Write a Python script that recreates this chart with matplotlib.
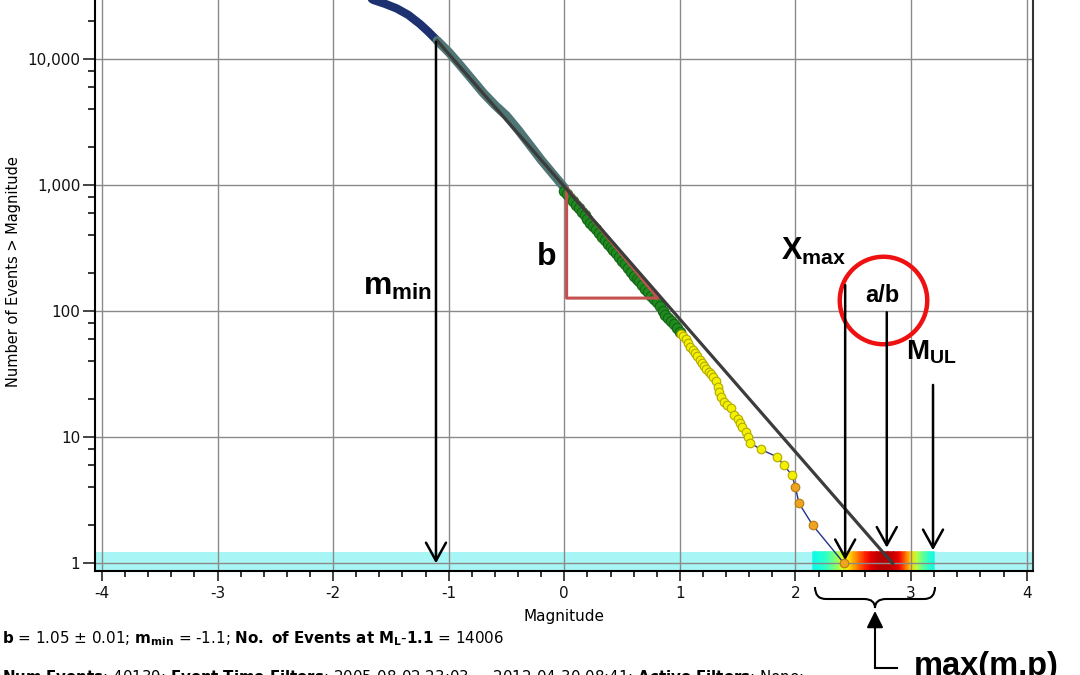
import numpy as np
import matplotlib
matplotlib.use("Agg")
import matplotlib.pyplot as plt
from matplotlib.path import Path
from matplotlib.patches import PathPatch
from matplotlib.ticker import FixedLocator, FuncFormatter, NullFormatter

# ---------------- data ----------------
x_ticks = [-4, -3, -2, -1, 0, 1, 2, 3, 4]
y_ticks = [1, 10, 100, 1000, 10000]

blue_m = [-1.80, -1.65, -1.55, -1.45, -1.35, -1.25, -1.18, -1.10]
blue_n = [35500, 29400, 27400, 25200, 22400, 19000, 16600, 14006]

teal_m = [-1.10, -1.00, -0.90, -0.80, -0.70, -0.60, -0.50, -0.40, -0.30, -0.20, -0.10, 0.00]
teal_n = [14006, 11350, 8910, 6920, 5370, 4310, 3550, 2750, 2090, 1585, 1230, 955]

green_m = [0.000, 0.025, 0.050, 0.075, 0.100, 0.125, 0.150, 0.175, 0.200, 0.225,
           0.250, 0.275, 0.300, 0.325, 0.350, 0.375, 0.400, 0.425, 0.450, 0.475,
           0.500, 0.525, 0.550, 0.575, 0.600, 0.625, 0.650, 0.675, 0.700, 0.725,
           0.750, 0.775, 0.800, 0.825, 0.850, 0.875, 0.900, 0.925, 0.950, 0.975, 1.000]
green_n = [905, 850, 790, 745, 700, 655, 612, 575, 540, 505,
           470, 447, 420, 390, 365, 342, 322, 305, 288, 268,
           250, 236, 221, 205, 190, 181, 172, 160, 150, 141,
           132, 125, 118, 109, 101, 94, 88, 83, 79, 73, 68]

yellow_m = [1.01, 1.03, 1.05, 1.07, 1.09, 1.11, 1.13, 1.15, 1.17, 1.19, 1.21, 1.23,
            1.25, 1.27, 1.29, 1.31, 1.33, 1.34, 1.36, 1.38, 1.41, 1.44, 1.47, 1.50,
            1.52, 1.54, 1.57, 1.59, 1.61, 1.70, 1.84, 1.90, 1.97]
yellow_n = [66, 63, 60, 56, 52, 49, 47, 44, 41, 39, 37, 35,
            33, 32, 30, 28, 25, 23, 21, 19, 18, 17, 15, 14,
            13, 12, 11, 10, 9, 8, 7, 6, 5]

orange_m = [2.00, 2.03, 2.15, 2.42]
orange_n = [4, 3, 2, 1]

fit_m = [-1.10, 2.84]
fit_n = [14006, 1.0]

tri_m = [0.02, 0.02, 0.81, 0.02]
tri_n = [946, 127, 127, 946]

strip_m = [2.15, 2.20, 2.25, 2.30, 2.35, 2.40, 2.45, 2.50, 2.55, 2.60, 2.65,
           2.70, 2.75, 2.80, 2.85, 2.90, 2.95, 3.00, 3.05, 3.10, 3.15, 3.20]
strip_p = [0.37, 0.38, 0.40, 0.45, 0.52, 0.60, 0.66, 0.73, 0.80, 0.87, 0.91,
           0.94, 0.95, 0.95, 0.93, 0.90, 0.80, 0.68, 0.57, 0.47, 0.41, 0.37]

m_min_val = -1.11
xmax_val = 2.43
ab_val = 2.79
mul_val = 3.19

# ---------------- figure ----------------
plt.rcParams["font.family"] = ["DejaVu Sans"]
plt.rcParams["mathtext.fontset"] = "custom"
plt.rcParams["mathtext.rm"] = "Liberation Sans"
plt.rcParams["mathtext.bf"] = "Liberation Sans:bold"

W, H = 1080, 675
fig = plt.figure(figsize=(W / 100, H / 100), dpi=100)
ax = fig.add_axes([95 / W, (H - 571) / H, (1033 - 95) / W, (571 + 16.6) / H])
ax.set_yscale("log")
ax.set_xlim(-4.06, 4.055)
y_bottom = 0.869
ax.set_ylim(y_bottom, 39811)

ax.xaxis.set_major_locator(FixedLocator(x_ticks))
ax.xaxis.set_minor_locator(FixedLocator(np.arange(-4, 4.001, 0.2)))
ax.yaxis.set_major_locator(FixedLocator(y_ticks))
ax.yaxis.set_minor_locator(FixedLocator([d * k for d in [1, 10, 100, 1000, 10000] for k in (2, 4, 6, 8)]))
ax.yaxis.set_major_formatter(FuncFormatter(lambda v, p: f"{v:,.0f}"))
ax.yaxis.set_minor_formatter(NullFormatter())
ax.xaxis.set_major_formatter(FuncFormatter(lambda v, p: f"{v:.0f}"))

ax.tick_params(axis="y", which="major", length=8.5, width=1.1, pad=2, labelsize=11, colors="#111111")
ax.tick_params(axis="y", which="minor", length=5, width=1.1)
ax.tick_params(axis="x", which="major", length=7.5, width=1.1, pad=3, labelsize=11, colors="#111111")
ax.tick_params(axis="x", which="minor", length=4.5, width=1.1)

for s in ["left", "bottom"]:
    ax.spines[s].set_linewidth(1.5)
    ax.spines[s].set_color("black")
ax.spines["right"].set_linewidth(1.5)
ax.spines["right"].set_color("#333333")
ax.spines["top"].set_visible(False)

ax.set_axisbelow(True)
ax.grid(True, which="major", color="#8a8a8a", lw=1.0)

# cyan band and probability strip
ax.axhspan(y_bottom, 1.236, color="#a8f5f5", zorder=0.2, lw=0)
sm = np.array(strip_m)
sp = np.array(strip_p)
X = np.vstack([sm, sm])
Y = np.vstack([np.full_like(sm, y_bottom), np.full_like(sm, 1.236)])
C = np.vstack([sp, sp])
ax.pcolormesh(X, Y, C, cmap="jet", vmin=0, vmax=1, shading="gouraud", zorder=0.3)

# data curve
all_m = blue_m + teal_m + green_m + yellow_m + orange_m
all_n = blue_n + teal_n + green_n + yellow_n + orange_n
ax.plot(all_m, all_n, color="#22338a", lw=1.0, zorder=2.5)
ax.plot(blue_m, blue_n, color="#1d3170", lw=6, solid_capstyle="round", zorder=3)
ax.plot(teal_m, teal_n, color="#4f7575", lw=6.5, solid_capstyle="round", zorder=3)
ax.plot(green_m, green_n, "o", ms=7.5, mfc="#1f8a1f", mec="#146414", mew=0.8, zorder=3)
ax.plot(yellow_m, yellow_n, "o", ms=6.2, mfc="#f2f200", mec="#b5a800", mew=0.8, zorder=3)
ax.plot(orange_m, orange_n, "o", ms=6.2, mfc="#eda420", mec="#b87a10", mew=0.8, zorder=3)

# fit line & triangle
ax.plot(fit_m, fit_n, color="#3c3c3c", lw=2.3, zorder=4)
ax.plot(tri_m, tri_n, color="#c55050", lw=2.2, zorder=3.5)

# red circle around a/b
ax.plot([2.758], [123], "o", ms=63, mfc="none", mec="#ee1111", mew=3.2, zorder=5)

# arrows
def varrow(xv, y0, y1):
    ax.annotate("", xy=(xv, y1), xytext=(xv, y0),
                arrowprops=dict(arrowstyle="->,head_length=0.65,head_width=0.36",
                                lw=1.8, color="black", mutation_scale=20,
                                shrinkA=0, shrinkB=0), zorder=6)

varrow(m_min_val, 13650, 1.0)
varrow(xmax_val, 161, 1.06)
varrow(ab_val, 98, 1.33)
varrow(mul_val, 26, 1.27)

# labels
def ftext(x, y, s, **kw):
    fig.text(x / W, 1 - y / H, s, **kw)

ftext(432, 295, r"$\mathbf{m_{min}}$", fontsize=23, ha="right", va="baseline", math_fontfamily="custom")
ftext(547, 265, "b", fontsize=23, ha="center", va="baseline", fontweight="bold", family="Liberation Sans")
ftext(781, 260, r"$\mathbf{X_{max}}$", fontsize=22, ha="left", va="baseline", math_fontfamily="custom")
ftext(882, 302, "a/b", fontsize=17, ha="center", va="baseline", fontweight="bold", family="Liberation Sans")
ftext(906, 360, r"$\mathbf{M_{UL}}$", fontsize=20, ha="left", va="baseline", math_fontfamily="custom")

# axis labels
ftext(564, 616, "Magnitude", fontsize=11, ha="center", va="center")
ftext(14, 272, "Number of Events > Magnitude", fontsize=10.5, ha="center", va="center", rotation=90)

# brace under the axis
def fp(x, y):
    return (x / W, 1 - y / H)

verts = [fp(815, 587), fp(815, 599), fp(826, 599), fp(864, 599),
         fp(875, 599), fp(875, 608), fp(875, 599), fp(886, 599),
         fp(924, 599), fp(935, 599), fp(935, 587)]
codes = [Path.MOVETO, Path.CURVE3, Path.CURVE3, Path.LINETO,
         Path.CURVE3, Path.CURVE3, Path.CURVE3, Path.CURVE3,
         Path.LINETO, Path.CURVE3, Path.CURVE3]
fig.add_artist(PathPatch(Path(verts, codes), transform=fig.transFigure,
                         fill=False, lw=1.5, color="black"))

# L-shaped arrow to max(m,p)
ax.annotate("", xy=(875, H - 611), xycoords="figure pixels",
            xytext=(875, H - 668), textcoords="figure pixels",
            arrowprops=dict(arrowstyle="-|>,head_length=0.5,head_width=0.25",
                            lw=1.5, color="black", mutation_scale=20,
                            shrinkA=0, shrinkB=0), annotation_clip=False)
fig.add_artist(plt.Line2D([875 / W, 897 / W], [1 - 668 / H, 1 - 668 / H],
                          transform=fig.transFigure, color="black", lw=1.5))
ftext(914, 675, "max(m,p)", fontsize=23.5, ha="left", va="baseline",
      fontweight="bold", family="Liberation Sans")

# bottom info text
line1 = (r"$\mathbf{b}$ = 1.05 ± 0.01; $\mathbf{m_{min}}$ = -1.1; "
         r"$\mathbf{No.\ of\ Events\ at\ M_{L}}$-$\mathbf{1.1}$ = 14006")
ftext(2, 643, line1, fontsize=10.9, ha="left", va="baseline", math_fontfamily="dejavusans")
line2 = (r"$\mathbf{Num\ Events}$: 40139; $\mathbf{Event\ Time\ Filters}$: "
         r"2005-08-02 23:03 — 2012-04-30 08:41; $\mathbf{Active\ Filters}$: None;")
ftext(2, 668, line2, fontsize=10.8, ha="left", va="top", math_fontfamily="dejavusans")

fig.savefig("out.png", dpi=100)
